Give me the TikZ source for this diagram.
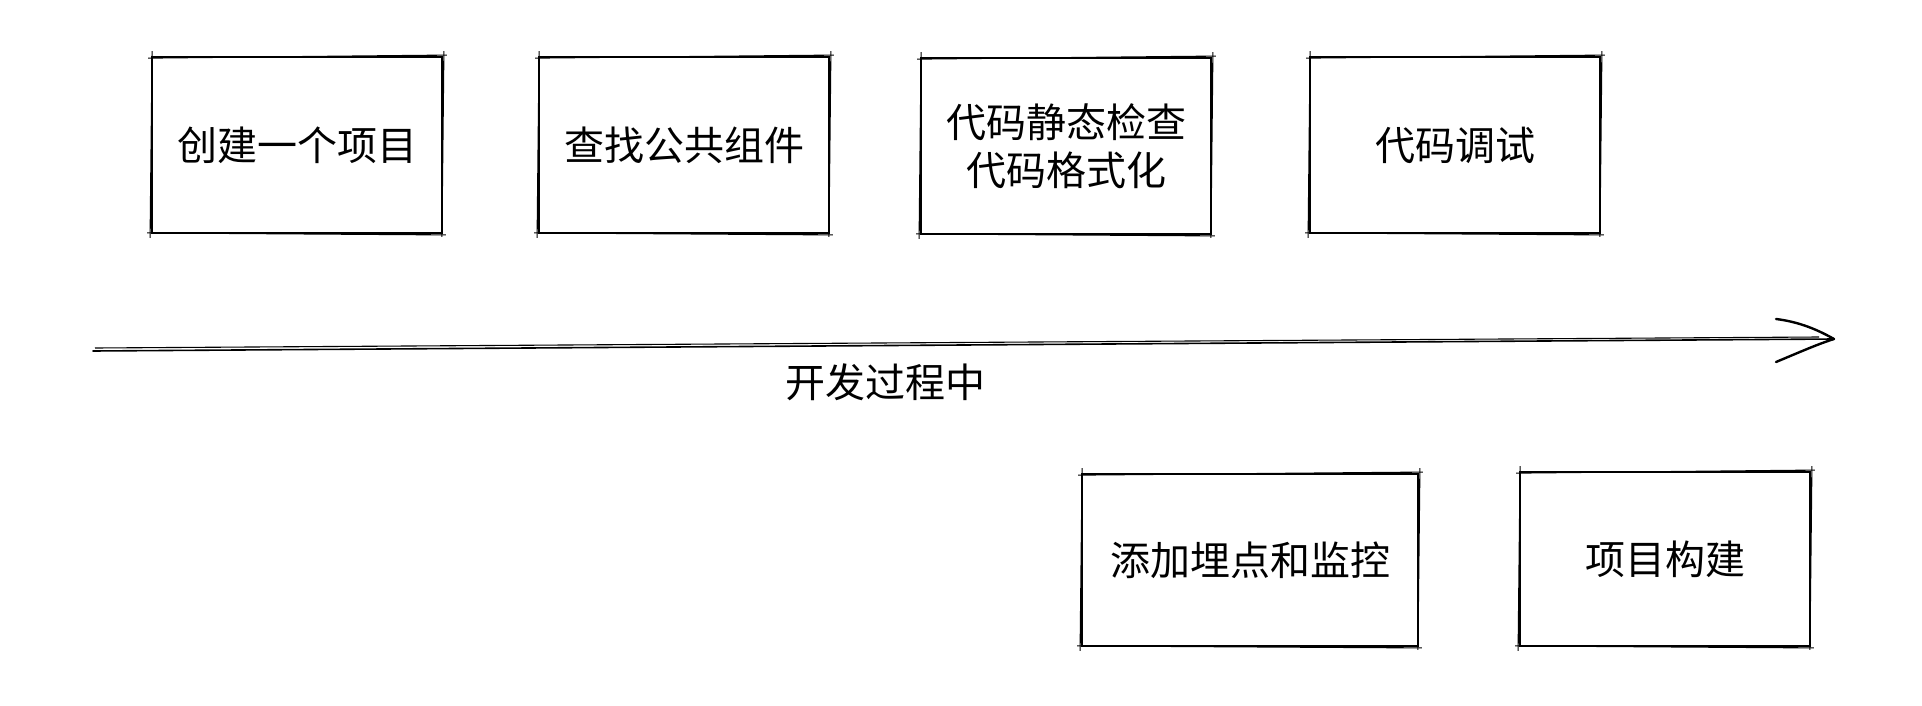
\documentclass[tikz,border=0pt]{standalone}
\usepackage{fontspec}
\setmainfont{Noto Sans CJK SC}
\newcommand\skbox[1]{%
 \draw[sk] ([shift={(-3,2)}]#1.north west) -- ([shift={(4,-1)}]#1.north east);
 \draw[sk] ([shift={(1,-5)}]#1.north east) -- ([shift={(-1,3)}]#1.south east);
 \draw[sk] ([shift={(3,1)}]#1.south east) -- ([shift={(-4,-1)}]#1.south west);
 \draw[sk] ([shift={(-1,4)}]#1.south west) -- ([shift={(1,-5)}]#1.north west);}
\begin{document}
\begin{tikzpicture}[x=1pt,y=-1pt,
  every node/.style={font=\fontsize{40}{48}\selectfont},
  box/.style={draw, line width=1.8pt, minimum width=290pt, minimum height=176pt, inner sep=0pt, align=center},
  sk/.style={line width=1.1pt},
  ln/.style={line width=1.6pt, line cap=round},
  hd/.style={line width=2.4pt, line cap=round}]
\useasboundingbox[fill=white] (0,0) rectangle (1922,706);
\node[box] (b1) at (297,145) {创建一个项目};
\node[box] (b2) at (684,145) {查找公共组件};
\node[box] (b3) at (1066,146) {代码静态检查\\代码格式化};
\node[box] (b4) at (1455,145) {代码调试};
\node[box, minimum width=336pt, minimum height=172pt] (b5) at (1250,560) {添加埋点和监控};
\node[box, minimum height=174pt] (b6) at (1665,559) {项目构建};
\skbox{b1}\skbox{b2}\skbox{b3}\skbox{b4}\skbox{b5}\skbox{b6}
\coordinate (s) at (93,351);
\coordinate (t) at (1834,339);
\coordinate (ua) at (1776,319);
\coordinate (la) at (1776,362);
\draw[ln] (s) -- (t);
\draw[sk] ([shift={(2,-3)}]s) -- ([shift={(-15,-2)}]t);
\draw[hd] (ua) .. controls (1800,322) and (1818,330) .. (t);
\draw[hd] (la) .. controls (1800,352) and (1818,344) .. (t);
\node (lbl) at (885,382) {开发过程中};
\end{tikzpicture}
\end{document}
